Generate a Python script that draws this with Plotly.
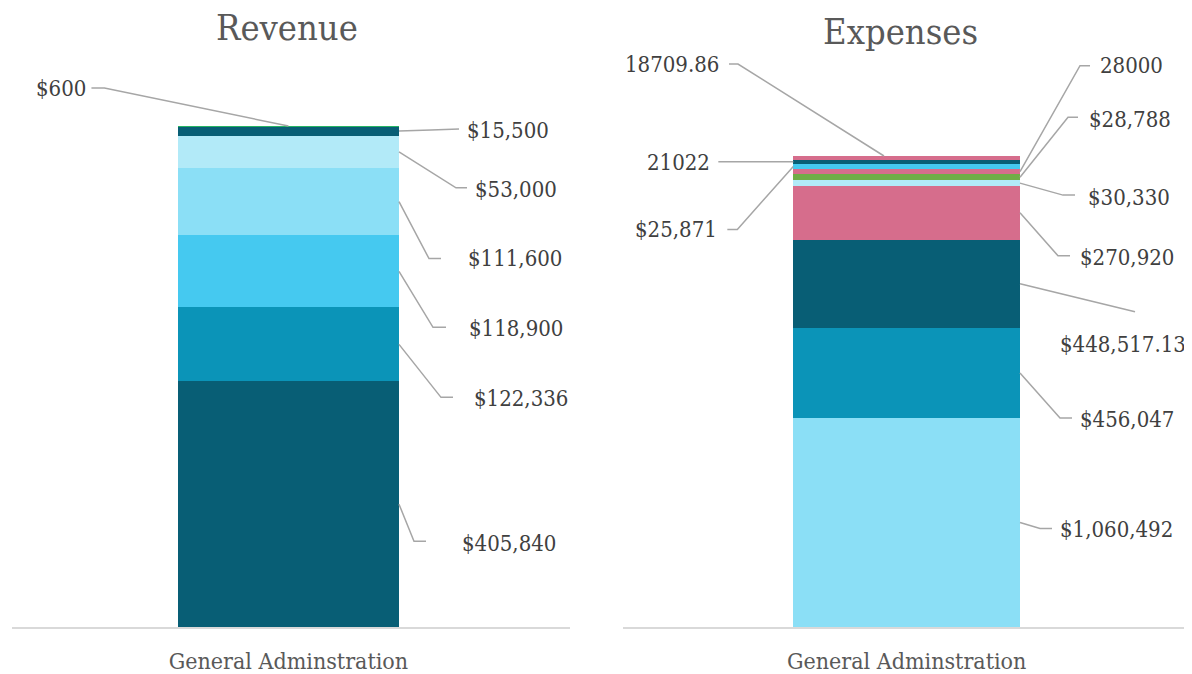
import plotly.graph_objects as go
from plotly.subplots import make_subplots

# ---------------- data ----------------
category = ["General Adminstration"]

rev_values = [405840, 122336, 118900, 111600, 53000, 15500, 600]
rev_labels = ["$405,840", "$122,336", "$118,900", "$111,600", "$53,000", "$15,500", "$600"]
rev_colors = ["#085E75", "#0B94B8", "#45C9F0", "#8BDFF6", "#B2EAF8", "#085E75", "#26B463"]

exp_values = [1060492, 456047, 448517.13, 270920, 30330, 28788, 28000, 25871, 21022, 18709.86]
exp_labels = ["$1,060,492", "$456,047", "$448,517.13", "$270,920", "$30,330",
              "$28,788", "28000", "$25,871", "21022", "18709.86"]
exp_colors = ["#8BDFF6", "#0B94B8", "#085E75", "#D66D8C", "#B2EAF8",
              "#70AD47", "#D66D8C", "#45C9F0", "#085E75", "#D66D8C"]

# leader-line layout: side of bar, knee/end offsets and text offset (screen px, y down)
rev_leaders = [
    ("r", (15, 37), (27, 37), (61, 39)),
    ("r", (42, 53), (54, 53), (73, 54)),
    ("r", (34, 56), (47, 56), (68, 57)),
    ("r", (30, 57), (42, 57), (67, 57)),
    ("r", (57, 36), (68, 36), (74, 38)),
    ("r", (32, -1), (60, -2), (66, -1)),
    ("t", (-184, -38), (-197, -38), (-200, -38)),
]
exp_leaders = [
    ("r", (20, 6), (32, 6), (38, 7)),
    ("r", (40, 45), (52, 45), (58, 47)),
    ("r", (115, 28), (115, 28), (38, 61)),
    ("r", (38, 43), (50, 43), (58, 45)),
    ("r", (43, 12), (55, 12), (66, 14)),
    ("r", (48, -60), (58, -60), (67, -58)),
    ("r", (60, -106), (70, -106), (78, -106)),
    ("l", (-56, 63), (-66, 63), (-74, 63)),
    ("l", (-63, 0), (-75, 0), (-81, 1)),
    ("t", (-146, -92), (-155, -92), (-163, -92)),
]

FONT = "DejaVu Serif Condensed, DejaVu Serif, serif"
LABEL_COLOR = "#404040"
LINE_COLOR = "#A6A6A6"

# page offset of the plot div (body margin) and plot area in figure pixels
OFF = 8
TOP, BOTTOM = 32, 619
PLOT_H = BOTTOM - TOP

fig = make_subplots(rows=1, cols=2)


def add_stack(values, labels, colors, leaders, col, top_x):
    xr = "x" if col == 1 else "x2"
    yr = "y" if col == 1 else "y2"
    base = 0
    total = sum(values)
    for v, lab, c, (side, knee, end, txt) in zip(values, labels, colors, leaders):
        fig.add_trace(go.Bar(x=category, y=[v], marker=dict(color=c, line=dict(width=0)),
                             showlegend=False, hoverinfo="skip"), row=1, col=col)
        if side == "t":
            ax, ay = top_x, total
        elif side == "r":
            ax, ay = 0.2, base + v / 2
        else:
            ax, ay = -0.2, base + v / 2
        base += v
        path = f"M 0,0 L {knee[0]},{-knee[1]} L {end[0]},{-end[1]}"
        fig.add_shape(type="path", xref=xr, yref=yr, xsizemode="pixel", ysizemode="pixel",
                      xanchor=ax, yanchor=ay, path=path,
                      line=dict(color=LINE_COLOR, width=1.5))
        fig.add_annotation(x=ax, y=ay, xref=xr, yref=yr, text=lab, showarrow=False,
                           xshift=txt[0], yshift=-txt[1],
                           xanchor="left" if side == "r" else "right",
                           yanchor="middle",
                           font=dict(family=FONT, size=22, color=LABEL_COLOR))


add_stack(rev_values, rev_labels, rev_colors, rev_leaders, 1, 0)
add_stack(exp_values, exp_labels, exp_colors, exp_leaders, 2, -0.04)

for txt, px, py in [("Revenue", 287, 27), ("Expenses", 900, 32)]:
    fig.add_annotation(text=txt, x=(px - OFF) / 1192, y=(BOTTOM - (py - OFF)) / PLOT_H,
                       xref="paper", yref="paper",
                       showarrow=False, xanchor="center", yanchor="middle",
                       font=dict(family=FONT, size=36, color="#595959"))

axis_x = dict(type="category", showline=True, linecolor="#D9D9D9", linewidth=2,
              showgrid=False, ticks="", zeroline=False, ticklabelstandoff=12,
              tickfont=dict(family=FONT, size=23, color="#595959"))
fig.update_xaxes(**axis_x)
fig.update_yaxes(visible=False, showgrid=False, zeroline=False)
fig.update_layout(
    width=1192, height=674,
    barmode="stack", bargap=0.6,
    plot_bgcolor="white", paper_bgcolor="white",
    margin=dict(l=0, r=0, t=TOP, b=674 - BOTTOM),
    xaxis=dict(domain=[(12 - OFF) / 1192, (570 - OFF) / 1192]),
    xaxis2=dict(domain=[(623 - OFF) / 1192, (1190 - OFF) / 1192]),
    yaxis=dict(range=[0, 969900]),
    yaxis2=dict(range=[0, 2977000]),
)

fig.write_html("out.html")
